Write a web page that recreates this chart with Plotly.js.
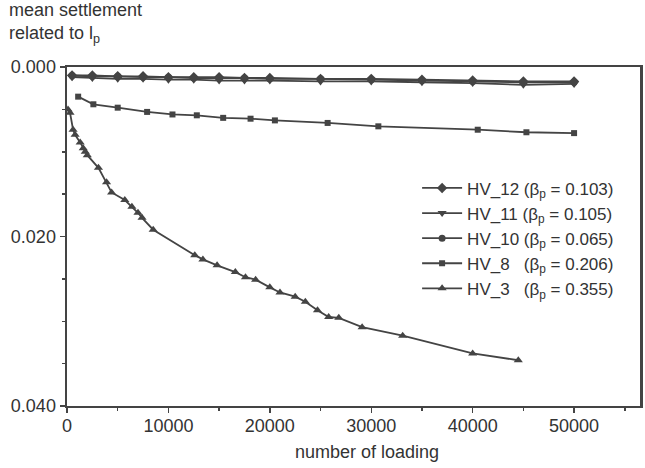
<!DOCTYPE html>
<html>
<head>
<meta charset="utf-8">
<script src="https://cdn.plot.ly/plotly-3.0.1.min.js"></script>
<style>html,body{margin:0;padding:0;background:#fff;}#chart{width:645px;height:468px;}</style>
</head>
<body>
<div id="chart"></div>
<script>
// ---- data ----
const hv12X = [500, 2500, 5000, 7500, 10000, 12500, 15000, 17500, 20000, 25000, 30000, 35000, 40000, 45000, 50000];
const hv12Y = [0.0010, 0.0010, 0.0011, 0.0011, 0.0012, 0.0012, 0.0012, 0.0013, 0.0013, 0.0014, 0.0014, 0.0015, 0.0016, 0.0017, 0.0017];

const hv11X = [500, 2500, 5000, 7500, 10000, 12500, 15000, 17500, 20000, 25000, 30000, 35000, 40000, 45000, 50000];
const hv11Y = [0.0012, 0.0013, 0.0014, 0.0014, 0.0015, 0.0015, 0.0016, 0.0016, 0.0016, 0.0017, 0.0017, 0.0018, 0.0019, 0.0021, 0.0020];

const hv10X = [500, 2500, 5000, 7500, 10000, 12500, 15000, 17500, 20000, 25000, 30000, 35000, 40000, 45000, 50000];
const hv10Y = [0.0010, 0.0011, 0.0011, 0.0012, 0.0012, 0.0013, 0.0013, 0.0013, 0.0014, 0.0014, 0.0015, 0.0016, 0.0017, 0.0018, 0.0018];

const hv8X = [1100, 2600, 5000, 7900, 10400, 12800, 15400, 18100, 20500, 25700, 30700, 40500, 45300, 50000];
const hv8Y = [0.0035, 0.0044, 0.0048, 0.0053, 0.0056, 0.0057, 0.0060, 0.0061, 0.0063, 0.0066, 0.0070, 0.0074, 0.0077, 0.0078];

const hv3X = [100, 300, 600, 800, 1300, 1600, 1800, 2000, 3100, 3900, 4400, 5700, 6400, 7000, 7400, 8500,
  12600, 13400, 14800, 16600, 17600, 18600, 20000, 21000, 22500, 23500, 24700, 25800, 26800, 29100, 33100, 40000, 44500];
const hv3Y = [0.0050, 0.0054, 0.0074, 0.0080, 0.0089, 0.0096, 0.0100, 0.0104, 0.0119, 0.0136, 0.0148, 0.0157, 0.0165, 0.0172, 0.0178, 0.0192,
  0.0222, 0.0227, 0.0234, 0.0242, 0.0248, 0.0251, 0.0260, 0.0266, 0.0271, 0.0277, 0.0287, 0.0295, 0.0296, 0.0307, 0.0317, 0.0338, 0.0346];

const seriesNames = [
  'HV_12 (β<sub>p</sub> = 0.103)',
  'HV_11 (β<sub>p</sub> = 0.105)',
  'HV_10 (β<sub>p</sub> = 0.065)',
  'HV_8\u00A0\u00A0 (β<sub>p</sub> = 0.206)',
  'HV_3\u00A0\u00A0 (β<sub>p</sub> = 0.355)'
];
const xTickVals = [0, 10000, 20000, 30000, 40000, 50000];
const yTickVals = [0.000, 0.020, 0.040];

// ---- styles ----
const col = '#444';
function tr(x, y, name, symbol, size) {
  return {
    x: x, y: y, name: name, type: 'scatter', mode: 'lines+markers',
    line: {color: col, width: 1.8},
    marker: {symbol: symbol, size: size, color: col}
  };
}
const data = [
  tr(hv12X, hv12Y, seriesNames[0], 'diamond', 8),
  tr(hv11X, hv11Y, seriesNames[1], 'triangle-down', 8),
  tr(hv10X, hv10Y, seriesNames[2], 'circle', 7),
  tr(hv8X, hv8Y, seriesNames[3], 'square', 6),
  tr(hv3X, hv3Y, seriesNames[4], 'triangle-up', 8)
];

const fam = 'Liberation Sans, Arial, sans-serif';
const tickFont = {family: fam, size: 18, color: '#333'};
const txtFont = {family: fam, size: 18, color: '#333'};
const layout = {
  width: 645, height: 468,
  margin: {l: 67, r: 5, t: 67, b: 62},
  paper_bgcolor: '#fff', plot_bgcolor: '#fff',
  font: txtFont,
  showlegend: true,
  legend: {x: 0.611, y: 0.695, xanchor: 'left', yanchor: 'top', bgcolor: 'rgba(0,0,0,0)',
           font: {family: fam, size: 17, color: '#333'}, tracegroupgap: 0, itemwidth: 40},
  xaxis: {
    range: [0, 56500], tickvals: xTickVals, ticktext: xTickVals.map(String),
    tickfont: tickFont, ticklabelstandoff: -3,
    ticks: 'outside', ticklen: 5, tickwidth: 1.5, tickcolor: col,
    minor: {dtick: 5000, ticks: 'outside', ticklen: 3, tickcolor: col},
    showgrid: false, zeroline: false,
    showline: true, linecolor: col, linewidth: 2, mirror: true
  },
  yaxis: {
    range: [0.040, 0.000], tickvals: yTickVals, ticktext: yTickVals.map(v => v.toFixed(3)),
    tickfont: tickFont,
    ticks: 'outside', ticklen: 5, tickwidth: 1.5, tickcolor: col,
    minor: {dtick: 0.005, ticks: 'outside', ticklen: 3, tickcolor: col},
    showgrid: false, zeroline: false,
    showline: true, linecolor: col, linewidth: 2.5, mirror: true
  },
  annotations: [{
    text: 'mean settlement<br>related to l<sub>p</sub>', xref: 'paper', yref: 'paper',
    x: -0.104, y: 1.0, xanchor: 'left', yanchor: 'bottom', yshift: 19, showarrow: false, align: 'left',
    font: txtFont
  }, {
    text: 'number of loading', xref: 'paper', yref: 'paper',
    x: 0.5236, y: 0, xanchor: 'center', yanchor: 'middle', yshift: -46, showarrow: false,
    font: txtFont
  }]
};
Plotly.newPlot('chart', data, layout, {staticPlot: true, displayModeBar: false});
</script>
</body>
</html>
